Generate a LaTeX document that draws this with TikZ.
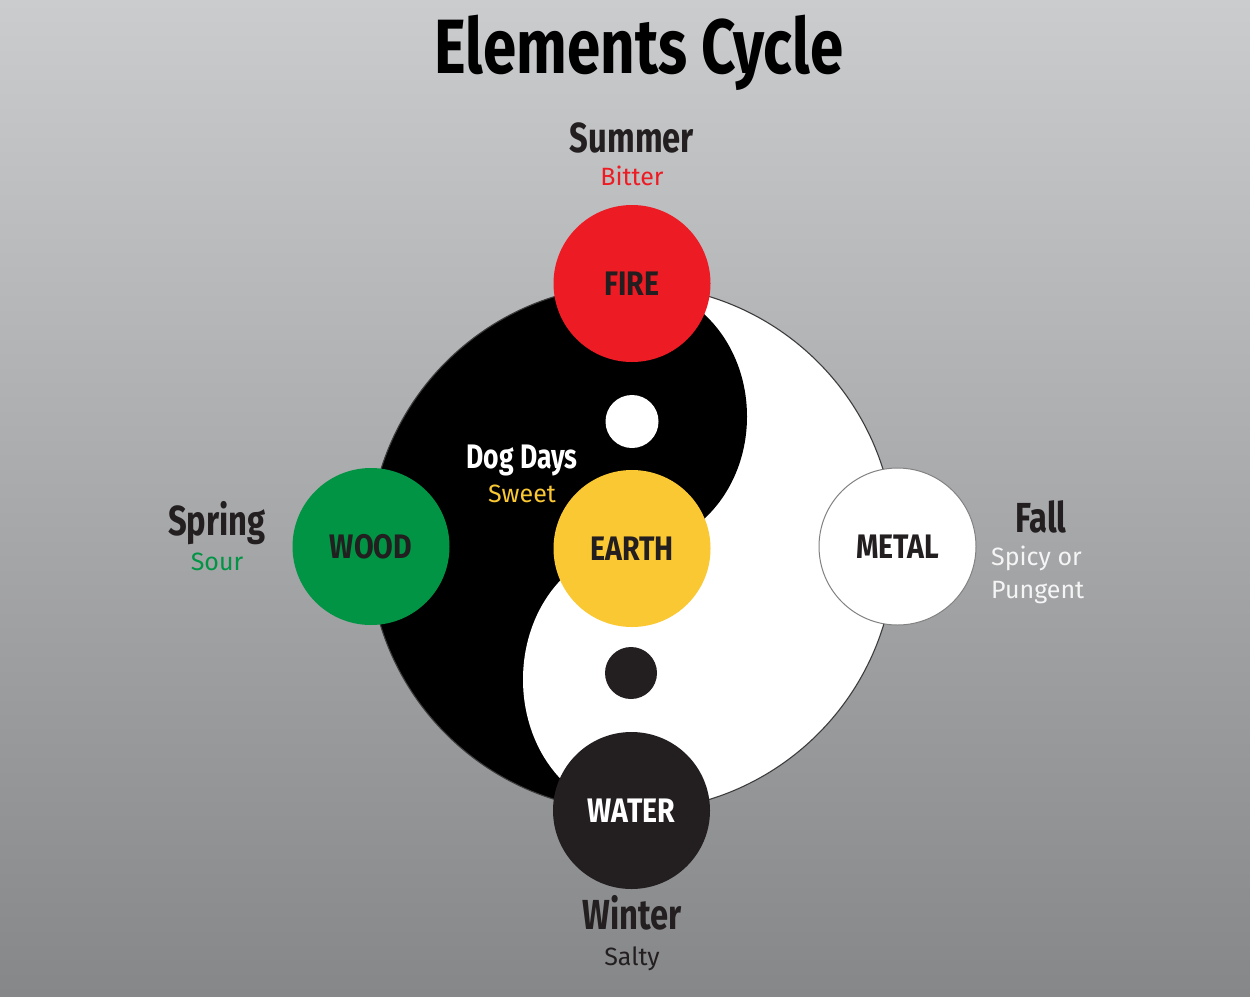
\documentclass[tikz,border=0pt]{standalone}
\usepackage{fontspec}
\setmainfont{Fira Sans}
\newfontfamily\condb{Fira Sans}[FakeStretch=0.78]
\newfontfamily\condc{Fira Sans}[FakeStretch=0.84]
\definecolor{bgtop}{RGB}{203,204,206}
\definecolor{bgbot}{RGB}{134,135,137}
\definecolor{dark}{RGB}{35,31,32}
\definecolor{firered}{RGB}{237,28,36}
\definecolor{woodgreen}{RGB}{0,148,68}
\definecolor{earthyellow}{RGB}{249,200,51}
\definecolor{outline}{RGB}{60,60,60}
\definecolor{metaledge}{RGB}{130,130,130}
\definecolor{offwhite}{RGB}{245,245,245}
\tikzset{
  elem/.style={circle, minimum size=157pt, inner sep=0pt, text=dark,
    font=\condc\bfseries\fontsize{34}{34}\selectfont},
  season/.style={anchor=base, text=dark, inner sep=0pt,
    font=\condb\bfseries\fontsize{42}{42}\selectfont},
  taste/.style={anchor=base, inner sep=0pt, font=\fontsize{25}{25}\selectfont},
}
\begin{document}
\begin{tikzpicture}[x=1pt,y=-1pt]
\shade[top color=bgtop,bottom color=bgbot] (0,0) rectangle (1250,996);
\useasboundingbox (0,0) rectangle (1250,996);
% yin-yang
\coordinate (yy) at (632,548);
\fill[white] (yy) circle[radius=263];
\begin{scope}
  \clip (360,280) rectangle (632,820);
  \fill[black] (yy) circle[radius=263];
\end{scope}
\fill[black] (632,416.5) ellipse[x radius=115, y radius=131.5];
\fill[white] (632,679.5) ellipse[x radius=109, y radius=131.5];
\draw[outline, line width=1.1pt] (yy) circle[radius=263];
\fill[white] (632,421.5) circle[radius=26.5];
\fill[dark] (631,673) circle[radius=26];
% elements
\node[elem, fill=firered] (fire) at (632,283.5) {FIRE};
\node[elem, fill=earthyellow] (earth) at (632,548.5) {EARTH};
\node[elem, fill=woodgreen] (wood) at (371,546.5) {WOOD};
\node[elem, fill=white, draw=metaledge, line width=1pt] (metal) at (897.5,546.5) {METAL};
\node[elem, fill=dark, text=white] (water) at (631.5,810.5) {WATER};
% title
\node[anchor=base, inner sep=0pt, text=black, font=\condb\bfseries\fontsize{77}{77}\selectfont] (title) at (639,73) {Elements Cycle};
% seasons and tastes
\node[season] (summer) at (632,152) {Summer};
\node[taste, text=firered] (bitter) at (632,185) {Bitter};
\node[season, text=white, font=\condb\bfseries\fontsize{34}{34}\selectfont] (dogdays) at (522,468) {Dog Days};
\node[taste, text=earthyellow] (sweet) at (522,502) {Sweet};
\node[season] (spring) at (217,535) {Spring};
\node[taste, text=woodgreen] (sour) at (217,570) {Sour};
\node[season] (fall) at (1041,532) {Fall};
\node[taste, text=offwhite, anchor=base west] (spicy) at (991,565) {Spicy or};
\node[taste, text=offwhite, anchor=base west] (pungent) at (991,598) {Pungent};
\node[season] (winter) at (632,929) {Winter};
\node[taste, text=dark] (salty) at (632,965) {Salty};
\end{tikzpicture}
\end{document}
